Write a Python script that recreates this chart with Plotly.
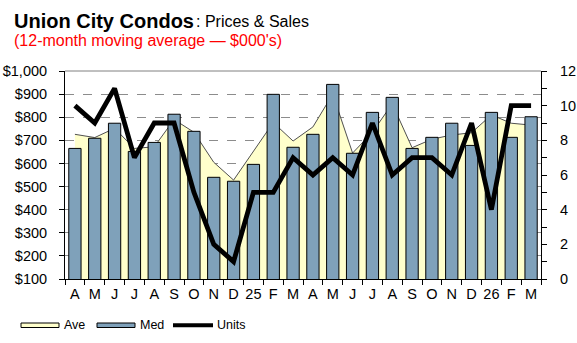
import plotly.graph_objects as go

# Monthly labels, Apr 2024 through Mar 2026
months = ["A", "M", "J", "J", "A", "S", "O", "N", "D", "25", "F", "M",
          "A", "M", "J", "J", "A", "S", "O", "N", "D", "26", "F", "M"]
# Use unique category keys so repeated letters stay separate
cats = [f"{i:02d}" for i in range(len(months))]

# 12-month moving averages, $000's
ave_price = [726, 712, 752, 665, 672, 790, 735, 605, 528, 651, 777, 697,
             758, 900, 645, 735, 858, 668, 705, 723, 733, 810, 774, 766]
med_price = [665, 709, 774, 652, 691, 813, 739, 540, 523, 596, 899, 670,
             726, 942, 644, 821, 886, 665, 713, 774, 678, 821, 713, 802]
units = [10, 9, 11, 7, 9, 9, 5, 2, 1, 5, 5, 7,
         6, 7, 6, 9, 6, 7, 7, 6, 9, 4, 10, 10]

W, H = 577, 343
L, R, T, B = 65, 36, 71, 64
PW, PH = W - L - R, H - T - B

FONT = "Arial, Liberation Sans, sans-serif"
AVE_FILL = "#FFFFCC"
MED_FILL = "#7FA1BA"
PRICE_RANGE = [100, 1000]


def xp(px):
    return (px - L) / PW


def yp(py):
    return (H - B - py) / PH


fig = go.Figure()

# Average price area sits on the base axis (drawn first, behind the bars)
fig.add_trace(go.Scatter(
    x=cats, y=ave_price, name="Ave", mode="lines",
    fill="tozeroy", fillcolor=AVE_FILL,
    line=dict(color="#505050", width=1),
    showlegend=False, hoverinfo="skip",
))

# Median price bars on an overlaid copy of the price axis
fig.add_trace(go.Bar(
    x=cats, y=med_price, name="Med", yaxis="y2",
    marker=dict(color=MED_FILL, line=dict(color="black", width=1)),
    showlegend=False,
))

# Units sold on the right-hand axis, topmost
fig.add_trace(go.Scatter(
    x=cats, y=units, name="Units", mode="lines", yaxis="y3",
    line=dict(color="black", width=4.8),
    showlegend=False,
))

tick_font = dict(family=FONT, size=14.5, color="black")

fig.update_layout(
    width=W, height=H,
    margin=dict(l=L, r=R, t=T, b=B, pad=0, autoexpand=False),
    paper_bgcolor="white", plot_bgcolor="white",
    bargap=0.38,
    xaxis=dict(
        type="category", categoryorder="array", categoryarray=cats,
        tickmode="array", tickvals=cats, ticktext=months,
        range=[-0.5, len(cats) - 0.5], tickangle=0, automargin=False,
        tickson="boundaries", ticks="outside", ticklen=5,
        tickcolor="black", linecolor="black", linewidth=1,
        showline=True, showgrid=False, tickfont=tick_font,
        ticklabelstandoff=2,
    ),
    yaxis=dict(
        range=PRICE_RANGE, dtick=100, tick0=100, automargin=False,
        tickprefix="$", tickformat=",",
        ticks="outside", ticklen=5, tickcolor="black",
        showline=True, linecolor="black", linewidth=1,
        showgrid=True, gridcolor="#8c8c8c", griddash="dash", gridwidth=1,
        zeroline=False, tickfont=tick_font, ticklabelstandoff=9,
    ),
    yaxis2=dict(
        range=PRICE_RANGE, overlaying="y", side="left", automargin=False,
        visible=False, showgrid=False, zeroline=False,
    ),
    yaxis3=dict(
        range=[0, 12], dtick=2, tick0=0, overlaying="y", side="right",
        automargin=False,
        ticks="outside", ticklen=5, tickcolor="black",
        minor=dict(dtick=1, ticks="outside", ticklen=5, tickcolor="black"),
        showline=True, linecolor="black", linewidth=1,
        showgrid=False, zeroline=False, tickfont=tick_font,
        ticklabelstandoff=10,
    ),
    showlegend=False,
)

# Top edge of the plotting area
shapes = [dict(type="line", xref="paper", yref="paper", x0=0, x1=1, y0=1, y1=1,
               line=dict(color="#808080", width=1))]

# Legend keys
ly = 325.3
shapes.append(dict(type="rect", xref="paper", yref="paper",
                   x0=xp(21), x1=xp(59), y0=yp(327.5), y1=yp(323),
                   fillcolor=AVE_FILL, line=dict(color="black", width=1)))
shapes.append(dict(type="rect", xref="paper", yref="paper",
                   x0=xp(97), x1=xp(135), y0=yp(327.5), y1=yp(323),
                   fillcolor=MED_FILL, line=dict(color="black", width=1)))
shapes.append(dict(type="line", xref="paper", yref="paper",
                   x0=xp(173), x1=xp(213), y0=yp(ly), y1=yp(ly),
                   line=dict(color="black", width=4)))
fig.update_layout(shapes=shapes)

leg_font = dict(family=FONT, size=12.5, color="black")
annotations = [
    dict(text="Ave", x=xp(62), y=yp(ly)),
    dict(text="Med", x=xp(138), y=yp(ly)),
    dict(text="Units", x=xp(214.5), y=yp(ly)),
]
for a in annotations:
    a.update(xref="paper", yref="paper", xanchor="left", yanchor="middle",
             showarrow=False, font=leg_font)

# Title, in two weights, and red subtitle
annotations.append(dict(
    text="<b>Union City Condos</b>",
    x=xp(12), y=yp(21), xref="paper", yref="paper",
    xanchor="left", yanchor="middle", showarrow=False,
    font=dict(family=FONT, size=20, color="black"),
))
annotations.append(dict(
    text=": Prices &amp; Sales",
    x=xp(194), y=yp(22), xref="paper", yref="paper",
    xanchor="left", yanchor="middle", showarrow=False,
    font=dict(family=FONT, size=16, color="black"),
))
annotations.append(dict(
    text="(12-month moving average \u2014 $000's)",
    x=xp(12), y=yp(40), xref="paper", yref="paper",
    xanchor="left", yanchor="middle", showarrow=False,
    font=dict(family=FONT, size=16, color="#FF0000"),
))
fig.update_layout(annotations=annotations)

fig.write_html("out.html")
